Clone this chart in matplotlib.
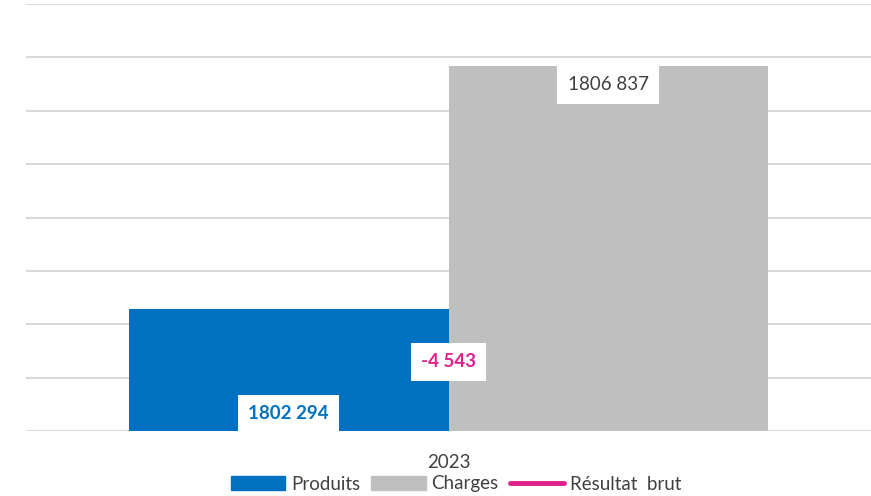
import matplotlib.pyplot as plt
from matplotlib.lines import Line2D
from matplotlib.patches import Patch

plt.rcParams['font.family'] = ['Lato', 'DejaVu Sans']

# Compte de résultat 2023
year = ["2023"]
produits = [1802294]
charges = [1806837]
resultat = [-4543]

blue = "#0070C0"
grey = "#BFBFBF"
pink = "#E0218A"
fs = 13.5


def fr(v):
    s = f"{abs(v):,}".replace(",", " ")
    # the bars show a space only before the last group
    parts = s.split(" ")
    s = "".join(parts[:-1]) + " " + parts[-1] if len(parts) > 2 else s
    return ("-" if v < 0 else "") + s


fig = plt.figure(figsize=(8.71, 4.96), dpi=100)
ax = fig.add_axes([26 / 871, 1 - 431 / 496, 845 / 871, 427 / 496])

w = 0.378
x = [0]
ax.bar([i - w / 2 for i in x], produits, width=w, color=blue, zorder=3)
ax.bar([i + w / 2 for i in x], charges, width=w, color=grey, zorder=3)
ax.plot(x, resultat, color=pink, lw=3, zorder=4)

ax.set_xlim(-0.5, 0.5)
ax.set_ylim(1800000, 1808000)
ax.set_yticks(range(1800000, 1808001, 1000))
ax.yaxis.grid(True, color="#D9D9D9", lw=1.5, zorder=0)
ax.tick_params(left=False, bottom=False, labelleft=False, pad=13)
ax.set_xticks(x)
ax.set_xticklabels(year, fontsize=fs, color="#404040")
for sp in ax.spines.values():
    sp.set_visible(False)

box = dict(boxstyle="square,pad=0.55", fc="white", ec="none")
ax.annotate(fr(produits[0]), xy=(x[0] - w / 2, 0.041), xycoords=("data", "axes fraction"),
            ha="center", va="center", fontsize=fs, fontweight="bold", color=blue, bbox=box, zorder=5)
ax.annotate(fr(charges[0]), xy=(x[0] + w / 2, charges[0]), xytext=(0, -13.5),
            textcoords="offset points", ha="center", va="center", fontsize=fs,
            color="#404040", bbox=box, zorder=5)
ax.annotate(fr(resultat[0]), xy=(x[0], 0.162), xycoords=("data", "axes fraction"),
            ha="center", va="center", fontsize=fs, fontweight="bold", color=pink, bbox=box, zorder=5)

handles = [Patch(color=blue, label="Produits"),
           Patch(color=grey, label="Charges"),
           Line2D([], [], color=pink, lw=3.5, solid_capstyle="round", label="Résultat  brut")]
fig.legend(handles=handles, loc="center", bbox_to_anchor=(456 / 871, 1 - 484 / 496), ncol=3,
           frameon=False, fontsize=fs, handlelength=2.9, handleheight=0.8,
           handletextpad=0.3, columnspacing=0.6, labelcolor="#404040")

fig.savefig("out.png", dpi=100)
